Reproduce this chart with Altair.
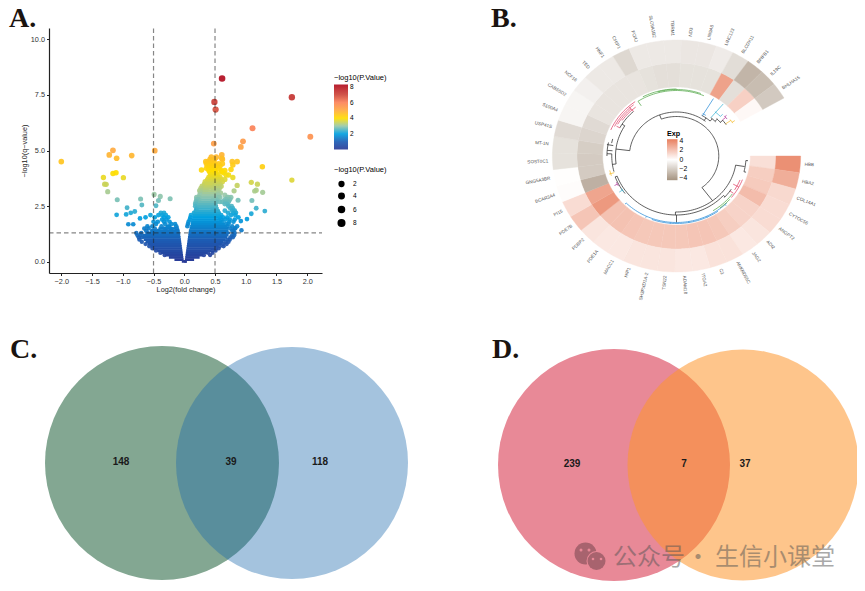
import math
import altair as alt
import pandas as pd

OFF = 8
FONT = "Liberation Sans"

# ---------- Panel A: volcano ----------
iso_x = [.615,1.75,.49,.51,1.11,2.05,.955,.92,.48,-.48,-1.16,-1.22,-1.1,-.855,-2.0,-1.315,-1.16,-1.11,-.99,-1.295,-1.27,-1.245,-1.09,-.71,-.49,-.39,-.42,-.23,-.69,-.46,-.93,-1.1,-.945,-.87,-.805,-.55,-.63,-.72,-.91,-.83,
         1.75,1.27,1.09,1.19,1.17,1.145,1.275,1.1,1.17,1.31,1.09,1.02,.92,.93,.83,.86,.78,.79,.76,.61,.61,.28,.79,.86,.81,.875]
iso_y = [8.23,7.39,7.18,6.84,6.0,5.62,5.41,5.16,5.31,4.99,5.01,4.8,4.65,4.77,4.5,3.79,3.97,4.0,3.78,3.49,3.48,3.15,2.79,2.82,3.03,2.94,2.76,2.83,2.55,2.52,2.43,2.11,2.13,2.2,2.26,2.1,2.0,1.95,1.69,1.69,
         3.67,4.27,3.57,3.49,3.22,3.18,3.12,2.76,2.41,2.28,2.16,1.92,1.83,1.42,1.51,4.5,4.5,4.35,4.15,4.8,4.65,4.12,3.79,3.43,3.19,2.77]

row_y = [4.7,4.6,4.5,4.4,4.3,4.2,4.1,4.05,4.0,3.9,3.8,3.7,3.6,3.5,3.4,3.3,3.2,3.1,3.0,2.9,2.8,2.7,2.6,2.5,2.4,2.3,2.2,2.1,2.0,1.9,1.8,1.7,1.6,1.5,1.4,1.3,1.2,1.1,1.0,.9,.8,.7,.6,.5,.4,.3]
row_x = [
 [.44,.52],[.42,.49,.62],[.35,.39,.43,.47],[.36,.41,.46,.5,.56,.62],[.38,.42,.45,.48,.52,.58],[.36,.4,.44,.47,.5,.55],
 [.4,.43,.46,.49,.6,.66],[.42,.45,.5,.61],[.42,.47,.52,.64],[.43,.46,.5,.55,.68,.72],[.4,.44,.48,.53,.58],
 [.38,.44,.5,.55,.6,.66],[.34,.4,.45,.5,.56,.62],[.33,.36,.42,.47,.52,.58],[.29,.33,.39,.46,.5,.55,.6],[.27,.31,.37,.48,.53,.57],
 [.25,.3,.35,.47,.52,.55],[.26,.31,.48,.54,.59],[.25,.29,.47,.53,.56,.66],[.2,.24,.49,.55,.58,.72,.76,.7],[.2,.24,.47,.52,.69,.74,.66],
 [.19,.23,.46,.52,.58,.62,.67,.72],[.18,.22,.45,.5,.66,.7],[.18,.46,.5,.72,.77],[.2,.46,.5,.75,.79],[.19,.48,.53,.66,.78,.82],
 [-.33,-.38,.16,.5,.56,.71,.8,.84],[-.42,-.36,-.3,.11,.55,.6,.76,.83],[-.48,-.33,-.26,.1,.58,.63,.7,.88],[-.36,-.29,.09,.6,.67,.74,.82],
 [-.5,-.43,-.33,-.24,.07,.62,.73,.8],[-.46,-.31,-.21,-.15,.06,.68,.72],[-.6,-.52,-.37,-.25,-.13,.05,.7,.78,.86],[-.65,-.58,-.48,-.31,-.22,-.12,.75,.82],
 [-.62,-.52,-.42,-.3,-.21,-.11,.8,.78],[-.78,-.7,-.6,-.2,.82],[-.76,-.71,.78,.81],[-.74,-.69,.75,.79],[-.73,.7,.74],[-.69,.67,.72],[-.63,.63,.69],
 [-.57,.58,.64],[-.52,.52,.56],[-.46,.46,.51],[-.39,.39,.46],[-.32,.32,.42]]

dot_x = list(iso_x) + [x for xs_ in row_x for x in xs_]
dot_y = list(iso_y) + [y for y, xs_ in zip(row_y, row_x) for _ in xs_]

core_y  = [.02,.1,.2,.3,.4,.5,.6,.7,.8,.9,1.0,1.1,1.2,1.3,1.4,1.5,1.6,1.7,1.8,1.9,2.0,2.1,2.2,2.3,2.4,2.5,2.6,2.7,2.8,2.9,3.0,3.1,3.2,3.3,3.4,3.5]
core_l0 = [-.04,-.16,-.25,-.31,-.38,-.44,-.5,-.55,-.6,-.63,-.66,-.68,-.68,-.62,-.55,-.42,-.3]
core_l1 = [.04,-.01,-.015,-.02,-.025,-.03,-.035,-.04,-.045,-.05,-.055,-.06,-.065,-.07,-.08,-.14,-.22]
core_r0 = [.0,.01,.015,.02,.025,.03,.035,.04,.045,.05,.055,.06,.065,.07,.075,.085,.095,.105,.11,.12,.13,.14,.15,.17,.19,.2,.21,.22,.23,.26,.28,.29,.3,.3,.31,.33]
core_r1 = [.04,.16,.25,.31,.38,.44,.5,.56,.61,.64,.67,.7,.72,.74,.72,.72,.7,.66,.62,.6,.6,.58,.58,.58,.56,.55,.54,.53,.52,.52,.52,.52,.52,.5,.48,.46]

vline_x = [-.5, .5]
hline_y = [1.3]
X_TICKS = [-2,-1.5,-1,-.5,0,.5,1,1.5,2]
Y_TICKS = [0,2.5,5,7.5,10]
COLOR_STOPS = [0,1,2,3,4,5,6,7,8.3]
COLOR_STOPS_RULE = [0,1,2,3,4,5,6,7,8.31]
COLOR_RANGE = ["#2a3a96","#1c5cb4","#00a0e0","#98c8aa","#ffdd00","#ffaa40","#fb8258","#cd463a","#b00a1e"]

W, H = 849, 575
xs = alt.Scale(domain=[-2.2,2.24], range=[49-OFF,322-OFF], nice=False, zero=False)
ys = alt.Scale(domain=[-.5,10.5], range=[273-OFF,28-OFF], nice=False, zero=False)
cs = alt.Scale(domain=COLOR_STOPS, range=COLOR_RANGE, clamp=True, interpolate="rgb")
cs_rule = alt.Scale(domain=COLOR_STOPS_RULE, range=COLOR_RANGE, clamp=True, interpolate="rgb")
px_x = alt.Scale(domain=[0,W], range=[0,W], nice=False, zero=False)
px_y = alt.Scale(domain=[0,H], range=[0,H], nice=False, zero=False)
px_a = alt.Scale(domain=[-360,360], range=[-360,360], nice=False, zero=False)
xaxis = alt.Axis(orient="bottom", offset=273-OFF-H, values=X_TICKS, format=".1f", grid=False, title="Log2(fold change)",
                 domainColor="#222", tickColor="#222", tickSize=2.5, labelFontSize=7.3, titleFontSize=7.3, titleFontWeight="normal",
                 labelColor="#333", titleColor="#222", labelFont=FONT, titleFont=FONT, titlePadding=1, labelPadding=2, labelOverlap=False, domainWidth=1.2)
yaxis = alt.Axis(orient="left", offset=OFF-49, values=Y_TICKS, format=".1f", grid=False, title="−log10(q−value)",
                 domainColor="#222", tickColor="#222", tickSize=2.5, labelFontSize=7.3, titleFontSize=7.3, titleFontWeight="normal",
                 labelColor="#333", titleColor="#222", labelFont=FONT, titleFont=FONT, titlePadding=2, labelPadding=2, labelOverlap=False, domainWidth=1.2)

dots = alt.Chart(pd.DataFrame({"x":dot_x,"y":dot_y,"p":dot_y,"s":dot_y})).mark_circle(opacity=.92).encode(
    x=alt.X("x:Q", scale=xs, axis=xaxis),
    y=alt.Y("y:Q", scale=ys, axis=yaxis),
    color=alt.Color("p:Q", scale=cs, legend=alt.Legend(title="−log10(P.Value)", orient="none", legendX=334-OFF, legendY=74-OFF,
        values=[2,4,6,8], gradientLength=65, gradientThickness=14, titleFontSize=7.5, labelFontSize=6.5, titleFontWeight="normal",
        titleFont=FONT, labelFont=FONT, titlePadding=3, labelOffset=2, gradientStrokeWidth=0)),
    size=alt.Size("s:Q", scale=alt.Scale(domain=[0,8.3], range=[16,44]), legend=alt.Legend(title="−log10(P.Value)", orient="none",
        legendX=334-OFF, legendY=166-OFF, values=[2,4,6,8], symbolFillColor="#000", symbolStrokeColor="#000", symbolOpacity=1, titleFontSize=7.5, labelFontSize=6.5,
        titleFontWeight="normal", titleFont=FONT, labelFont=FONT, titlePadding=7, rowPadding=0, symbolType="circle", labelOffset=7, symbolOffset=3)),
)
core_df = pd.DataFrame(
    [{"y":y,"a":a,"b":b,"q":y} for y,a,b in zip(core_y,core_l0,core_l1)] +
    [{"y":y,"a":a,"b":b,"q":y} for y,a,b in zip(core_y,core_r0,core_r1)])
core = alt.Chart(core_df).mark_rule(strokeWidth=2.7).encode(
    x=alt.X("a:Q", scale=xs), x2="b:Q", y=alt.Y("y:Q", scale=ys),
    stroke=alt.Stroke("q:Q", scale=cs_rule, legend=None))
vl = alt.Chart(pd.DataFrame({"x":vline_x})).mark_rule(color="#222", opacity=.55, strokeWidth=1.2, strokeDash=[4.5,3]).encode(
    x=alt.X("x:Q", scale=xs), y=alt.datum(-.5, scale=ys), y2=alt.datum(10.5))
hl = alt.Chart(pd.DataFrame({"y":hline_y})).mark_rule(color="#222", opacity=.55, strokeWidth=1.2, strokeDash=[4.5,3]).encode(
    y=alt.Y("y:Q", scale=ys), x=alt.datum(-2.2, scale=xs), x2=alt.datum(2.24))
panelA = alt.layer(dots, core, vl, hl)

# ---------- Panel B: circular heatmap ----------
genes = ["HBB","HBA2","COL14A1","CYTOC56","ANGPT2","ADI2","JAG2","ANKRD55C","C3","ITGA2","ADAM18","TSN22","SH3PXD1A-2","HIP1","MACC1","PDE1A","PDBP2","PDE7B","PI15","BCAR3A4",
         "GNG5A3BR","SOST0C1","MT-1N","USP41S","S100A4","CABS5D2","NCF16","TED","HNF1","CHIP1","FOXJ","SLC9A1B2","TBRM1","ND3","LIN9A8","LINC123","BLCDX11","BPIFB1","IL19C","BHLHA15"]
outer_v = [3.8,2.8,1.3,1.2,1.2,.9,.8,1.0,1.0,.8,.8,.9,.9,.9,.8,.8,.9,2.0,1.2,.1,.05,-1.2,-1.2,-1.5,-.4,-.4,-.6,-.9,-.9,-1.6,-.9,-.9,-.9,-1.0,-1.0,-.8,-1.4,-3.0,-2.7,-2.2]
inner_v = [1.1,1.7,1.8,2.3,1.5,1.5,1.7,1.9,2.0,2.0,1.9,1.9,1.9,1.9,2.0,2.1,2.1,3.5,3.1,-3.2,-2.1,-2.1,-2.0,-1.7,-1.5,-1.1,-1.1,-1.1,-1.1,-1.1,-1.2,-1.3,-1.3,-1.2,-1.2,-1.2,3.2,-1.3,1.6,.25]
START, STEP = 90.0, 8.25
CX, CY, XS = 676.5, 156.0, 1.07
R0, R1, R2 = 69, 93, 116
EXP_COLORS = ["#a59380","#ffffff","#e87f5e"]

def pt(a, r):
    t = math.radians(a)
    return [XS*r*math.sin(t), r*math.cos(t)]

features = []
for i, (o, n) in enumerate(zip(outer_v, inner_v)):
    a0, a1 = START+i*STEP, START+(i+1)*STEP
    angs = [a0+(a1-a0)*k/8 for k in range(9)]
    for v, ri, ro in ((n,R0,R1),(o,R1,R2)):
        ring = [pt(a,ro) for a in angs]+[pt(a,ri) for a in reversed(angs)]
        ring.append(ring[0])
        features.append({"type":"Feature","properties":{"v":v,"w":v},"geometry":{"type":"Polygon","coordinates":[ring]}})

proj = dict(type="identity", reflectY=True, scale=1, translate=[CX-OFF, CY-OFF])
ex = alt.Scale(domain=[-4.4,0,4.4], range=EXP_COLORS, interpolate="rgb")
ex_stroke = alt.Scale(domain=[-4.41,0,4.41], range=EXP_COLORS, interpolate="rgb")
heat = alt.Chart(alt.Data(values=features)).mark_geoshape(strokeWidth=.4).encode(
    color=alt.Color("properties.v:Q", scale=ex, legend=alt.Legend(title="Exp", orient="none", legendX=667-OFF, legendY=130-OFF,
        values=[-4,-2,0,2,4], gradientLength=41, gradientThickness=10.5, titleFontSize=7.2, labelFontSize=6.8, titleFont=FONT, labelFont=FONT,
        titlePadding=2, gradientStrokeWidth=0, labelOffset=2)),
    stroke=alt.Stroke("properties.w:Q", scale=ex_stroke, legend=None),
).project(**proj)

BK, BL, GR, PK, CY_, MG, YL = "#2b2b2b","#2f8fd8","#56a84b","#e0466a","#3db6d6","#b23a9a","#f6bd32"
# (start angle, end angle, radius, colour)
arcs = [(339,503,39.5,BK),(277,398,44,BK),(99.4,181,56,BK),(132,250,59,BK),
        (262,302,57,BK),(298,318,60,BK),(255,272,60.5,BK),(270,282,65,BK),(232,250,61,BK),
        (30,42,47,BK),(40,47,50,BK),(45,51,53,BK),(50,56,56,BK),
        (94,104,65,BK),(123,133,61,BK),
        (135,225,66.5,BL),(145,200,67.5,BL),(126,148,64.5,GR),(131,142,66,GR),
        (111,129,66,PK),(112,122,64,PK),(293,324.6,66.7,PK),(297,322,65,PK),(300,318,63.5,PK),(305,322,62,PK),
        (326.7,383,65.5,GR),(332,360,67,GR),(345,380,66.5,GR),
        (30,34,49,BL),(39,46,57,CY_),(48,52,60,MG),(54,58,62,YL),(234,238,61,CY_),(241,245,62,MG),(252,257,64,YL),(282,286,62,BK)]
# (angle, inner radius, outer radius, colour)
radials = [(339,39.5,44,BK),(143,39.5,56,BK),(99.4,56,64.5,BK),(181,56,59,BK),(277,44,57,BK),(302,57,60,BK),(262,57,60.5,BK),(250,59,61,BK),
           (36,44,47,BK),(42,47,50,BK),(46,50,53,BK),(50.5,53,56,BK),(31,47,67,BL),(40,50,68,CY_),(50,56,60,MG),(55,56,62,YL),(57,62,65,YL),
           (46,57,60,CY_),(49,60,62,MG),(94,65,67,BK),(104,65,67,BK),(132,59,61,BK),(125,61,65,PK),(118,60,66,PK),
           (137,66.5,68,BL),(155,66.5,68,BL),(170,66.5,68,BL),(185,66.5,68,BL),(205,66.5,68,BL),(225,66.5,68,BL),(180,59,66.5,BK),
           (236,61,64.5,CY_),(243,62,65,MG),(254,60.5,65.5,YL),(280,60,66,BK),(272,60.5,65,BK),(275,60,65,BK),(298,60,63.5,PK),(318,60,66,PK),
           (326.7,60,65.5,GR)]
tree_layers = []
for col in (BK, BL, GR, PK, CY_, MG, YL):
    feats = []
    for a0,a1,r,c in arcs:
        if c != col: continue
        n = max(2,int(abs(a1-a0)/2)+1)
        coords = [pt(a0+(a1-a0)*k/(n-1), r) for k in range(n)]
        feats.append({"type":"Feature","properties":{},"geometry":{"type":"LineString","coordinates":coords}})
    for a,r0,r1,c in radials:
        if c != col: continue
        feats.append({"type":"Feature","properties":{},"geometry":{"type":"LineString","coordinates":[pt(a,r0),pt(a,r1)]}})
    tree_layers.append(alt.Chart(alt.Data(values=feats)).mark_geoshape(filled=False, stroke=col, strokeWidth=.75).project(**proj))

lab = []
for i, g in enumerate(genes):
    a = START+(i+.5)*STEP
    p = pt(a, 120)
    left = (a % 360) >= 180
    lab.append({"g":g,"x":CX-OFF+p[0],"y":CY-OFF-p[1],"rot":((a%360)-270) if left else ((a%360)-90),"left":left})
lab_df = pd.DataFrame(lab)
def gene_layer(sub, align):
    return alt.Chart(sub).mark_text(fontSize=4.6, font=FONT, color="#555", align=align, baseline="middle").encode(
        x=alt.X("x:Q", scale=px_x, axis=None), y=alt.Y("y:Q", scale=px_y, axis=None), angle=alt.Angle("rot:Q", scale=px_a, legend=None), text="g:N")
labels_r = gene_layer(lab_df[~lab_df["left"]], "left")
labels_l = gene_layer(lab_df[lab_df["left"]], "right")
panelB = alt.layer(heat, *tree_layers, labels_r, labels_l)

# ---------- Panels C, D: Venn ----------
def circle(x, y, d, color, op=1.0):
    return alt.Chart(pd.DataFrame({"k":[0]})).mark_circle(color=color, opacity=op).encode(
        x=alt.value(x-OFF), y=alt.value(y-OFF), size=alt.value(d*d))
venn = [circle(162,463,234,"#83A792"), circle(292,463,232,"#1B69AC",.4),
        circle(614,465,232,"#E88997"), circle(743,465,231,"#FD962C",.55)]
vtxt = ["148","39","118","239","7","37"]
vtx = [121,231,320,572,684,745]
vty = [462,462,462,464,464,464]
venn_lab = alt.Chart(pd.DataFrame({"t":vtxt,"x":[v-OFF for v in vtx],"y":[v-OFF for v in vty]})).mark_text(
    font=FONT, fontSize=10, fontWeight="bold", color="#1a1a1a").encode(
    x=alt.X("x:Q", scale=px_x, axis=None), y=alt.Y("y:Q", scale=px_y, axis=None), text="t:N")

letters = ["A.","B.","C.","D."]
lx = [9,491,10,492]
ly = [27,27,358,358]
letter_l = alt.Chart(pd.DataFrame({"t":letters,"x":[v-OFF for v in lx],"y":[v-OFF for v in ly]})).mark_text(
    font="Liberation Serif", fontSize=28, fontWeight="bold", color="#1a1410", align="left", baseline="alphabetic").encode(
    x=alt.X("x:Q", scale=px_x, axis=None), y=alt.Y("y:Q", scale=px_y, axis=None), text="t:N")

# ---------- Watermark ----------
wm_t = ["公众号","·","生信小课堂"]
wm_x = [613,686,715]
wm = alt.Chart(pd.DataFrame({"t":wm_t,"x":[v-OFF for v in wm_x]})).mark_text(
    font="Noto Sans CJK SC", fontSize=24, color="#555555", opacity=.5, align="left", baseline="middle").encode(
    x=alt.X("x:Q", scale=px_x, axis=None), y=alt.value(558-OFF), text="t:N")
icon = [circle(585.5,553.5,22,"#A8636E"), circle(596.5,561,20,"#E88997"), circle(596.5,561,18,"#A8636E")]
eyes = [circle(581,550,3,"#E88997"), circle(589,550,3,"#E88997"), circle(593,559,2.6,"#E88997"), circle(601,559,2.6,"#E88997")]

chart = alt.layer(
    panelA, panelB, *venn, venn_lab, letter_l, *icon, *eyes, wm
).resolve_scale(x="independent", y="independent", color="independent", stroke="independent").properties(
    width=W, height=H, padding=0, autosize=alt.AutoSizeParams(type="none")
).configure_view(stroke=None)
chart.save("out.html", embed_options={"renderer":"svg","actions":False})
